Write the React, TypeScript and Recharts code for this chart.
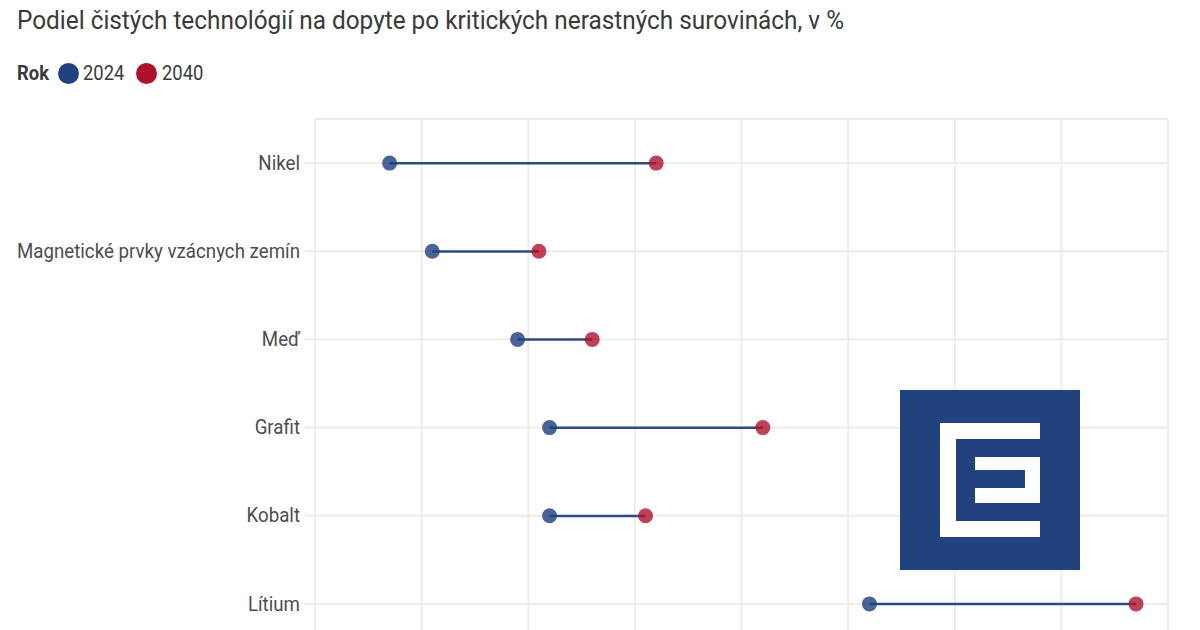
import { ComposedChart, Bar, Line, XAxis, YAxis, CartesianGrid } from "recharts";

const minerals = ["Nikel", "Magnetické prvky vzácnych zemín", "Meď", "Grafit", "Kobalt", "Lítium"];
const share2024 = [7, 11, 19, 22, 22, 52];
const share2040 = [32, 21, 26, 42, 31, 77];
const xTicks = [0, 10, 20, 30, 40, 50, 60, 70, 80];
const years = ["2024", "2040"];

const BLUE = "#21427f";
const RED = "#b0102a";
const LINE = "#2b4a8a";
const GRID = "#ebebeb";
const FONT = "Roboto, 'Open Sans', sans-serif";
// Roboto is a bit wider than the condensed face in the original
const TITLE_SQUEEZE = 0.955;
const TICK_SQUEEZE = 0.935;
const LEGEND_SQUEEZE = 0.92;

const data = minerals.map((name, i) => ({
  name,
  y2024: share2024[i],
  y2040: share2040[i],
  range: [share2024[i], share2040[i]],
}));

const CategoryTick = ({ x, y, payload }: any) => (
  <text
    x={0}
    y={0}
    transform={`translate(${x},${y}) scale(${TICK_SQUEEZE},1)`}
    textAnchor="end"
    dominantBaseline="central"
    fontFamily={FONT}
    fontSize={20}
    fill="#4d4d4d"
  >
    {payload.value}
  </text>
);

const Logo = () => (
  <svg width={180} height={180} style={{ position: "absolute", left: 900, top: 390 }}>
    <rect x={0} y={0} width={180} height={180} fill={BLUE} />
    <rect x={40} y={33} width={100} height={114} fill="#fff" />
    <rect x={56} y={49} width={84} height={82} fill={BLUE} />
    <rect x={75} y={67} width={65} height={46} fill="#fff" />
    <rect x={75} y={80} width={50} height={18} fill={BLUE} />
  </svg>
);

const legendText = (left: number, bold = false) => ({
  position: "absolute" as const,
  left,
  top: 0,
  fontSize: 20,
  lineHeight: "24px",
  fontWeight: bold ? 700 : 400,
  color: "#3a3a3a",
  whiteSpace: "nowrap" as const,
  transform: `scaleX(${LEGEND_SQUEEZE})`,
  transformOrigin: "left top",
});

const App = () => {
  return (
    <div
      style={{
        position: "fixed",
        left: 0,
        top: 0,
        width: 1200,
        height: 630,
        overflow: "hidden",
        background: "#fff",
        fontFamily: FONT,
      }}
    >
      <div
        style={{
          position: "absolute",
          left: 17,
          top: 5,
          fontSize: 25.5,
          color: "#3a3a3a",
          whiteSpace: "nowrap",
          transform: `scaleX(${TITLE_SQUEEZE})`,
          transformOrigin: "left top",
        }}
      >
        Podiel čistých technológií na dopyte po kritických nerastných surovinách, v %
      </div>

      <div style={{ position: "absolute", left: 0, top: 61, width: 300, height: 24 }}>
        <span style={legendText(17, true)}>Rok</span>
        {years.map((yr, i) => (
          <span key={yr}>
            <span
              style={{
                position: "absolute",
                left: 58 + i * 78,
                top: 1.5,
                width: 21,
                height: 21,
                borderRadius: "50%",
                background: i === 0 ? BLUE : RED,
              }}
            />
            <span style={legendText(83 + i * 79)}>{yr}</span>
          </span>
        ))}
      </div>

      <div style={{ position: "absolute", left: 0, top: 0 }}>
        <ComposedChart
          width={1200}
          height={660}
          data={data}
          layout="vertical"
          margin={{ top: 119, right: 32, bottom: 12, left: 0 }}
        >
          <CartesianGrid stroke={GRID} strokeWidth={1.8} />
          <XAxis type="number" domain={[0, 80]} ticks={xTicks} hide />
          <YAxis
            type="category"
            dataKey="name"
            width={315}
            axisLine={false}
            tickLine={{ stroke: GRID, strokeWidth: 1.8 }}
            tickSize={10}
            tickMargin={5}
            interval={0}
            tick={<CategoryTick />}
          />
          <Bar dataKey="range" fill={LINE} barSize={2.5} isAnimationActive={false} />
          <Line
            dataKey="y2024"
            stroke="none"
            strokeWidth={0}
            dot={{ r: 7.5, fill: BLUE, fillOpacity: 0.82, stroke: "none" }}
            activeDot={false}
            isAnimationActive={false}
          />
          <Line
            dataKey="y2040"
            stroke="none"
            strokeWidth={0}
            dot={{ r: 7.5, fill: RED, fillOpacity: 0.8, stroke: "none" }}
            activeDot={false}
            isAnimationActive={false}
          />
        </ComposedChart>
      </div>

      <Logo />
    </div>
  );
};

export default App;
